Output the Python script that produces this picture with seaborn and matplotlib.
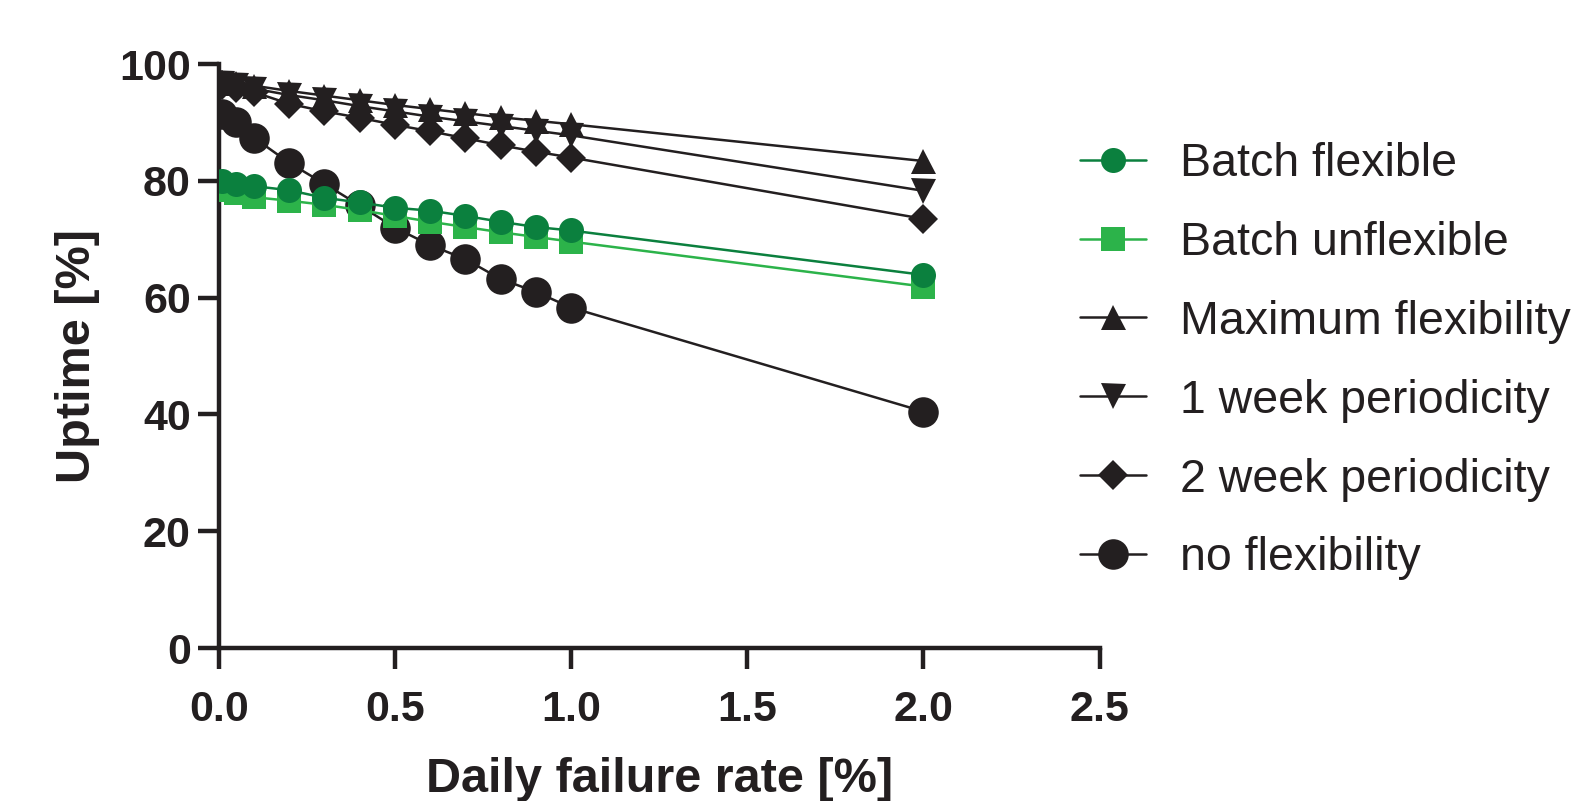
import pandas as pd
import seaborn as sns
import matplotlib.pyplot as plt
from matplotlib.lines import Line2D

# data
rate = [0.01, 0.05, 0.1, 0.2, 0.3, 0.4, 0.5, 0.6, 0.7, 0.8, 0.9, 1.0, 2.0]
batch_flexible = [80.0, 79.4, 79.1, 78.4, 77.1, 76.3, 75.4, 74.9, 74.0, 73.0, 72.1, 71.5, 63.9]
batch_unflexible = [78.4, 77.9, 77.2, 76.6, 75.9, 75.0, 74.0, 73.0, 72.1, 71.2, 70.4, 69.6, 61.9]
max_flex = [97.0, 96.8, 96.3, 95.4, 94.6, 93.8, 93.0, 92.3, 91.6, 90.9, 90.3, 89.7, 83.4]
week1 = [96.8, 96.4, 95.8, 94.7, 93.8, 92.8, 91.9, 91.0, 90.2, 89.4, 88.6, 87.8, 78.3]
week2 = [96.5, 95.9, 95.2, 93.2, 91.9, 90.8, 89.6, 88.5, 87.3, 86.1, 85.0, 84.0, 73.5]
no_flex = [91.4, 90.0, 87.4, 83.1, 79.5, 75.8, 72.0, 69.0, 66.6, 63.2, 61.0, 58.3, 40.5]

labels = ['Batch flexible', 'Batch unflexible', 'Maximum flexibility',
          '1 week periodicity', '2 week periodicity', 'no flexibility']

sns.set_style('ticks')
plt.rcParams['font.family'] = ['Liberation Sans', 'DejaVu Sans']

dark_green = '#0b803e'
light_green = '#2cb34a'
black = '#231f20'

# name: (values, colour, marker, size, zorder)
series = {
    'no flexibility': (no_flex, black, 'o', 22, 2),
    'Maximum flexibility': (max_flex, black, '^', 18, 3),
    '1 week periodicity': (week1, black, 'v', 18, 3),
    '2 week periodicity': (week2, black, 'D', 15, 3),
    'Batch unflexible': (batch_unflexible, light_green, 's', 17, 4),
    'Batch flexible': (batch_flexible, dark_green, 'o', 18, 5),
}

fig = plt.figure(figsize=(15.73, 8.01), dpi=100)
ax = fig.add_axes([0.139, 0.191, 0.56, 0.729])

for name, (vals, col, mk, ms, z) in series.items():
    df = pd.DataFrame({'rate': rate, 'uptime': vals})
    sns.lineplot(data=df, x='rate', y='uptime', ax=ax, color=col, marker=mk,
                 markersize=ms, markeredgewidth=0, linewidth=1.8, zorder=z)

ax.set_xlim(0, 2.5)
ax.set_ylim(0, 100)
ax.set_xticks([0.0, 0.5, 1.0, 1.5, 2.0, 2.5])
ax.set_xticklabels(['0.0', '0.5', '1.0', '1.5', '2.0', '2.5'])
ax.set_yticks([0, 20, 40, 60, 80, 100])
for s in ['top', 'right']:
    ax.spines[s].set_visible(False)
for s in ['left', 'bottom']:
    ax.spines[s].set_linewidth(3.2)
    ax.spines[s].set_color(black)
    ax.spines[s].set_clip_on(False)
ax.tick_params(width=3.2, length=15, color=black, labelsize=31)
ax.tick_params(axis='x', pad=15)
ax.tick_params(axis='y', pad=5)
for t in ax.get_xticklabels() + ax.get_yticklabels():
    t.set_fontweight('bold')
    t.set_color(black)
ax.set_xlabel('Daily failure rate [%]', fontsize=35, fontweight='bold', color=black, labelpad=20)
ax.set_ylabel('Uptime [%]', fontsize=35, fontweight='bold', color=black, labelpad=14)

# legend
handle_specs = [
    (dark_green, 'o', 18), (light_green, 's', 17), (black, '^', 18),
    (black, 'v', 18), (black, 'D', 15), (black, 'o', 22),
]
handles = [Line2D([], [], color=c, marker=m, markersize=s, markeredgewidth=0, linewidth=1.8)
           for c, m, s in handle_specs]
fig.legend(handles, labels, loc='upper left', bbox_to_anchor=(0.675, 0.846),
           frameon=False, fontsize=33.5, handlelength=1.4, labelspacing=0.75,
           handletextpad=0.75, labelcolor=black, borderaxespad=0)

fig.savefig('out.png', dpi=100)
